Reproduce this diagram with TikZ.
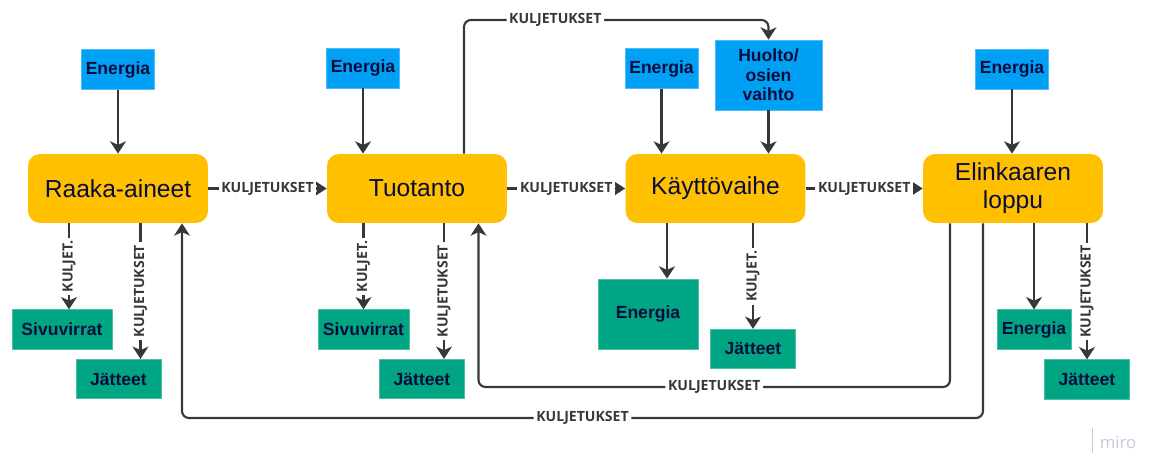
\documentclass[tikz,border=0pt]{standalone}
\usepackage{fontspec}
\setmainfont{Liberation Sans}
\newfontfamily\lblfont{Open Sans}
\usetikzlibrary{arrows.meta}
\definecolor{keltainen}{RGB}{255,192,0}
\definecolor{sininen}{RGB}{0,160,245}
\definecolor{vihrea}{RGB}{0,166,132}
\definecolor{teksti}{RGB}{10,12,60}
\definecolor{viiva}{RGB}{55,55,55}
\definecolor{harmaa}{RGB}{200,200,215}

\begin{document}
\begin{tikzpicture}[x=0.02cm,y=-0.02cm,
    vaihe/.style={fill=keltainen,rounded corners=0.24cm,minimum width=3.6cm,minimum height=1.38cm,inner sep=0pt,text=teksti,align=center,font=\fontsize{14}{16}\selectfont},
    panos/.style={fill=sininen,draw=sininen!70!white,minimum width=1.46cm,minimum height=0.8cm,inner sep=0pt,text=teksti,align=center,font=\bfseries\fontsize{10}{11}\selectfont},
    tuotos/.style={fill=vihrea,draw=vihrea!70!white,minimum width=1.7cm,minimum height=0.79cm,inner sep=0pt,text=teksti,align=center,font=\bfseries\fontsize{10}{11}\selectfont},
    lbl/.style={fill=white,inner sep=1.5pt,text=viiva,font=\lblfont\bfseries\fontsize{8}{9}\selectfont},
    nuoli/.style={draw=viiva,line width=1.6pt,-{Stealth[width=9pt,length=7pt,inset=2pt]}},
    paluu/.style={draw=viiva,line width=1.2pt,rounded corners=4pt,-{Stealth[width=9pt,length=7pt,inset=2pt]}}]
\useasboundingbox (0,0) rectangle (1150,453);

\node[vaihe] (raaka) at (118,188.5) {Raaka-aineet};
\node[vaihe] (tuo) at (417,188.5) {Tuotanto};
\node[vaihe] (kaytto) at (715.5,188.5) {Käyttövaihe};
\node[vaihe] (elin) at (1013,188.5) {Elinkaaren\\loppu};

\node[panos] (en1) at (118,69.5) {Energia};
\node[panos] (en2) at (363,68) {Energia};
\node[panos] (en3) at (661.5,68.5) {Energia};
\node[panos,minimum width=2.14cm,minimum height=1.4cm] (huolto) at (768.5,75) {Huolto/\\osien\\vaihto};
\node[panos] (en4) at (1012,69) {Energia};

\node[tuotos,minimum width=2cm] (siv1) at (62,329.5) {Sivuvirrat};
\node[tuotos] (jat1) at (118.5,379) {Jätteet};
\node[tuotos,minimum width=1.82cm] (siv2) at (363.5,329.5) {Sivuvirrat};
\node[tuotos] (jat2) at (422,379) {Jätteet};
\node[tuotos,minimum width=2cm,minimum height=1.4cm] (en5) at (648,314) {Energia};
\node[tuotos] (jat3) at (753,349) {Jätteet};
\node[tuotos,minimum width=1.48cm] (en6) at (1034,329.5) {Energia};
\node[tuotos] (jat4) at (1087,379.5) {Jätteet};

% panokset ylhäältä
\draw[nuoli] (en1) -- (en1 |- raaka.north);
\draw[nuoli] (en2) -- (en2 |- tuo.north);
\draw[nuoli] (en3) -- (en3 |- kaytto.north);
\draw[nuoli] (huolto) -- (huolto |- kaytto.north);
\draw[nuoli] (en4) -- (en4 |- elin.north);

% vaiheiden väliset kuljetukset
\draw[nuoli] (raaka) -- node[lbl]{KULJETUKSET} (tuo);
\draw[nuoli] (tuo) -- node[lbl]{KULJETUKSET} (kaytto);
\draw[nuoli] (kaytto) -- node[lbl]{KULJETUKSET} (elin);

% tuotokset alas
\draw[nuoli] ([xshift=0.14cm]siv1.north |- raaka.south) -- node[lbl,rotate=90]{KULJET.} ([xshift=0.14cm]siv1.north);
\draw[nuoli] ([xshift=0.44cm]jat1.north |- raaka.south) -- node[lbl,rotate=90]{KULJETUKSET} ([xshift=0.44cm]jat1.north);
\draw[nuoli] (siv2.north |- tuo.south) -- node[lbl,rotate=90]{KULJET.} (siv2.north);
\draw[nuoli] ([xshift=0.44cm]jat2.north |- tuo.south) -- node[lbl,rotate=90]{KULJETUKSET} ([xshift=0.44cm]jat2.north);
\draw[nuoli] ([xshift=0.38cm]en5.north |- kaytto.south) -- ([xshift=0.38cm]en5.north);
\draw[nuoli] (jat3.north |- kaytto.south) -- node[lbl,rotate=90]{KULJET.} (jat3.north);
\draw[nuoli] (en6.north |- elin.south) -- (en6.north);
\draw[nuoli] (jat4.north |- elin.south) -- node[lbl,rotate=90]{KULJETUKSET} (jat4.north);

% paluukuljetukset
\coordinate (yla) at (768.5,20);
\coordinate (ala1) at (478.5,387);
\coordinate (ala2) at (182,418);
\draw[paluu] ([xshift=0.94cm]tuo.north) |- node[lbl,pos=0.65]{KULJETUKSET} (yla) -- (huolto.north);
\draw[paluu] ([xshift=-1.26cm]elin.south) |- node[lbl,pos=0.75]{KULJETUKSET} (ala1) -- (ala1 |- tuo.south);
\draw[paluu] ([xshift=-0.6cm]elin.south) |- node[lbl,pos=0.75]{KULJETUKSET} (ala2) -- (ala2 |- raaka.south);

\draw[harmaa,line width=0.4pt] (1092,428) -- (1092,453);
\node[text=harmaa,font=\lblfont\fontsize{9.5}{10}\selectfont] (miro) at (1118,442) {miro};
\end{tikzpicture}
\end{document}
